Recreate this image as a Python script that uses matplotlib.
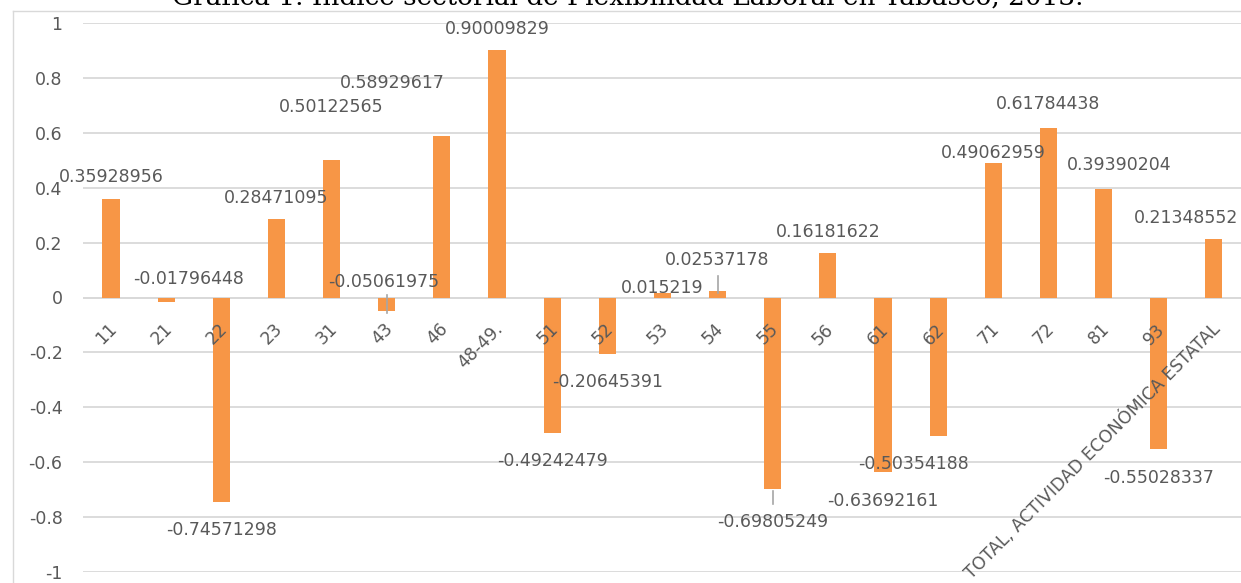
import matplotlib
matplotlib.use("Agg")
import matplotlib.pyplot as plt
import numpy as np

categories = ["11", "21", "22", "23", "31", "43", "46", "48-49.", "51", "52", "53",
              "54", "55", "56", "61", "62", "71", "72", "81", "93",
              "TOTAL, ACTIVIDAD ECONÓMICA ESTATAL"]
values = [0.35928956, -0.01796448, -0.74571298, 0.28471095, 0.50122565, -0.05061975,
          0.58929617, 0.90009829, -0.49242479, -0.20645391, 0.015219, 0.02537178,
          -0.69805249, 0.16181622, -0.63692161, -0.50354188, 0.49062959, 0.61784438,
          0.39390204, -0.55028337, 0.21348552]
value_labels = ["0.35928956", "-0.01796448", "-0.74571298", "0.28471095", "0.50122565",
                "-0.05061975", "0.58929617", "0.90009829", "-0.49242479", "-0.20645391",
                "0.015219", "0.02537178", "-0.69805249", "0.16181622", "-0.63692161",
                "-0.50354188", "0.49062959", "0.61784438", "0.39390204", "-0.55028337",
                "0.21348552"]
yticks = [1, 0.8, 0.6, 0.4, 0.2, 0, -0.2, -0.4, -0.6, -0.8, -1]
ytick_labels = ["1", "0.8", "0.6", "0.4", "0.2", "0", "-0.2", "-0.4", "-0.6", "-0.8", "-1"]
title = "Gráfica 1. Índice sectorial de Flexibilidad Laboral en Tabasco, 2013."

# label placement (layout): (x in category units, y in data units)
label_pos = [(0.0, 0.44), (1.4, 0.066), (2.0, -0.847), (3.0, 0.361), (4.0, 0.693),
             (4.95, 0.058), (5.1, 0.781), (7.0, 0.978), (8.0, -0.595), (9.0, -0.307),
             (10.0, 0.036), (11.0, 0.135), (12.0, -0.818), (13.0, 0.237),
             (14.0, -0.741), (14.55, -0.606), (16.0, 0.526), (17.0, 0.704),
             (18.28, 0.482), (19.0, -0.657), (19.5, 0.29)]
leaders = {5: (0.008, -0.055), 11: (0.080, 0.018), 12: (-0.704, -0.752)}

W, H = 1241, 583
fig = plt.figure(figsize=(W / 100, H / 100), dpi=100)
ax = fig.add_axes([83.4 / W, (H - 572) / H, 1158 / W, (572 - 23) / H])

text_color = "#595959"
bar_color = "#F79646"
grid_color = "#D9D9D9"

x = np.arange(len(categories))
ax.bar(x, values, width=0.31, color=bar_color, zorder=3)
ax.set_xlim(-0.5, len(categories) - 0.5)
ax.set_ylim(-1, 1)
ax.set_yticks(yticks)
ax.set_yticklabels(ytick_labels)
ax.tick_params(axis="y", length=0, pad=15, labelsize=12.5, labelcolor=text_color)
ax.set_xticks([])
for s in ax.spines.values():
    s.set_visible(False)
ax.grid(axis="y", color=grid_color, linewidth=1.3, zorder=0)
ax.axhline(0, color=grid_color, linewidth=1.3, zorder=1)

# category labels rotated 45 degrees at the zero line
for i, c in enumerate(categories):
    ax.text(i + 0.06, -0.105, c, rotation=45, ha="right", va="center",
            rotation_mode="anchor", fontsize=12.5, color=text_color, zorder=4)

# data labels
for i, lab in enumerate(value_labels):
    px, py = label_pos[i]
    ax.text(px, py, lab, ha="center", va="center", fontsize=12.5,
            color=text_color, zorder=5)

for i, (y0, y1) in leaders.items():
    ax.plot([i, i], [y0, y1], color="#A6A6A6", linewidth=1.2, zorder=4)

# chart border (light)
fig.add_artist(plt.Line2D([12.5 / W, 12.5 / W], [0, (H - 11) / H],
                          transform=fig.transFigure, color="#D9D9D9", linewidth=1))
fig.add_artist(plt.Line2D([12.5 / W, 1], [(H - 11) / H, (H - 11) / H],
                          transform=fig.transFigure, color="#D9D9D9", linewidth=1))

fig.text(628 / W, (H - 5) / H, title, ha="center", va="baseline",
         fontsize=18.9, family="DejaVu Serif", color="#000000")

fig.savefig("out.png", dpi=100)
